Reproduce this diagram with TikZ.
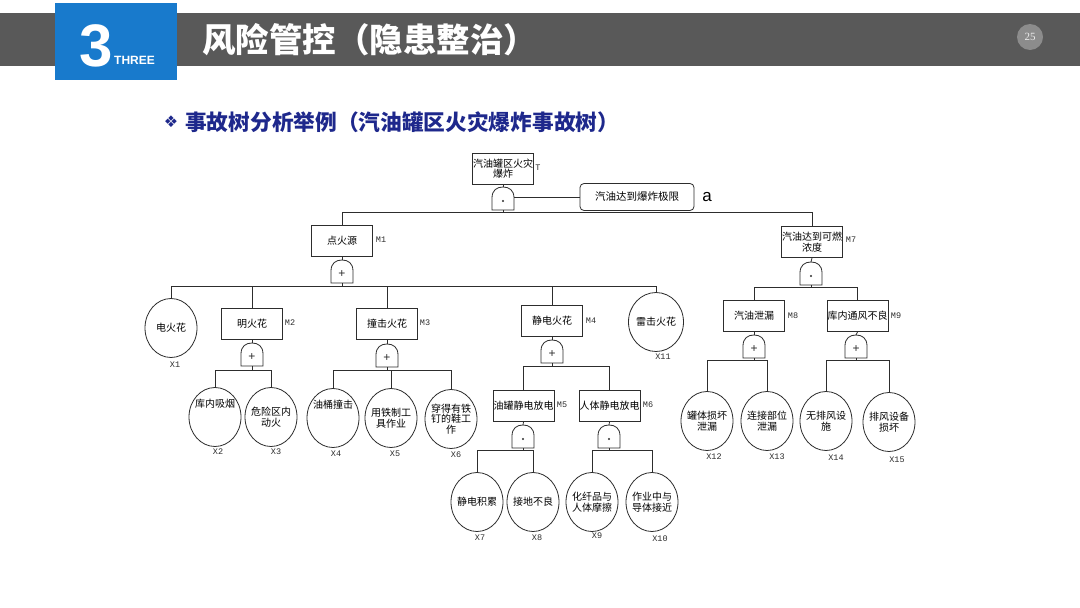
\documentclass[tikz,border=0pt]{standalone}
\usepackage{fontspec}
\usetikzlibrary{shapes.geometric}
\newfontfamily\cjk{Noto Sans CJK SC}
\newfontfamily\lsans{Liberation Sans}
\newfontfamily\lmono{Liberation Mono}
\newfontfamily\lserif{Liberation Serif}
\newfontfamily\djv{DejaVu Sans}
\definecolor{barg}{RGB}{89,89,89}
\definecolor{blu}{RGB}{24,122,204}
\definecolor{navy}{RGB}{30,40,140}
\definecolor{lncol}{RGB}{45,45,45}
\definecolor{pgc}{RGB}{140,140,140}
\tikzset{
  ln/.style={draw=lncol, line width=0.8pt},
  bx/.style={draw=lncol, line width=0.8pt, rectangle, minimum width=61pt, minimum height=31pt, inner sep=0pt, align=center, font=\cjk\fontsize{10}{10.5}\selectfont},
  ev/.style={draw=lncol, line width=0.8pt, ellipse, minimum width=52pt, minimum height=59pt, inner sep=-3pt, align=center, font=\cjk\fontsize{10}{10.5}\selectfont},
  lab/.style={inner sep=0pt, font=\lmono\fontsize{8.5}{8.5}\selectfont, text=lncol},
  gsym/.style={inner sep=0pt, font=\lsans\fontsize{12}{12}\selectfont, text=lncol}
}
\newcommand\gateshape[3]{%
  \draw[ln] (#2-11,#3+23) -- (#2-11,#3+11) .. controls (#2-11,#3+3) and (#2-6,#3) .. (#2,#3) .. controls (#2+6,#3) and (#2+11,#3+3) .. (#2+11,#3+11) -- (#2+11,#3+23) -- cycle;
  \coordinate (#1t) at (#2,#3);
  \coordinate (#1b) at (#2,#3+23);
  \coordinate (#1r) at (#2+11,#3+10);
  \coordinate (#1) at (#2,#3+14);
}
\newcommand\orgate[3]{\gateshape{#1}{#2}{#3}\node[gsym] (#1s) at (#1) {+};}
\newcommand\andgate[3]{\gateshape{#1}{#2}{#3}\fill[lncol] (#1) circle (1.2pt);}
\begin{document}
\begin{tikzpicture}[x=1pt,y=-1pt]
\useasboundingbox (0,0) rectangle (1080,608);
\fill[white] (0,0) rectangle (1080,608);
% header
\fill[barg] (0,13) rectangle (1080,66);
\fill[blu] (55,3) rectangle (177,80);
\node[text=white, font=\lsans\bfseries\fontsize{60}{60}\selectfont, inner sep=0pt, anchor=base] (num) at (96,66) {3};
\node[text=white, font=\lsans\bfseries\fontsize{12}{12}\selectfont, inner sep=0pt, anchor=base west] (three) at (114,64) {THREE};
\node[anchor=west, text=white, font=\cjk\bfseries\fontsize{33.5}{34}\selectfont, inner sep=0pt] (title) at (202,40) {风险管控（隐患整治）};
\node[circle, fill=pgc, minimum size=26pt, inner sep=0pt, text=white!85!gray, font=\lserif\fontsize{11}{11}\selectfont] (pg) at (1030,37) {25};
% subtitle
\node[text=navy, font=\djv\fontsize{16}{16}\selectfont, inner sep=0pt] (bul) at (171,122) {❖};
\node[anchor=west, text=navy, font=\cjk\bfseries\fontsize{21.7}{22}\selectfont, inner sep=0pt] (sub) at (185,122) {事故树分析举例（汽油罐区火灾爆炸事故树）};
% top event
\node[bx] (T) at (503,168.5) {汽油罐区火灾\\爆炸};
\node[lab] (Tl) at (538,168) {T};
\andgate{G0}{503}{187}
\draw[ln] (T.south) -- (G0t);
\node[bx, rounded corners=4pt, minimum width=114pt, minimum height=27pt, font=\cjk\fontsize{10.5}{11}\selectfont] (A) at (637,197) {汽油达到爆炸极限};
\draw[ln] (G0r) -- (A.west);
\node[inner sep=0pt, font=\lsans\fontsize{17}{17}\selectfont] (alab) at (707,197) {a};
% level 1
\node[bx] (M1) at (342,241) {点火源};
\node[lab] (M1l) at (381,240) {M1};
\node[bx] (M7) at (812,242) {汽油达到可燃\\浓度};
\node[lab] (M7l) at (851,240) {M7};
\draw[ln] (G0b) -- ++(0,2) -| (M1.north);
\draw[ln] (G0b) -- ++(0,2) -| (M7.north);
% M1 branch
\orgate{G1}{342}{260}
\draw[ln] (M1.south) -- (G1t);
\node[ev] (X1) at (171,328) {电火花};
\node[lab] (X1l) at (175,365) {X1};
\node[bx] (M2) at (252,324) {明火花};
\node[lab] (M2l) at (290,323) {M2};
\node[bx] (M3) at (387,324) {撞击火花};
\node[lab] (M3l) at (425,323) {M3};
\node[bx] (M4) at (552,321) {静电火花};
\node[lab] (M4l) at (591,321) {M4};
\node[ev, minimum width=55pt] (X11) at (656,322) {雷击火花};
\node[lab] (X11l) at (663,357) {X11};
\foreach \c in {X1,M2,M3,M4,X11} {\draw[ln] (G1b) -- ++(0,3) -| (\c.north);}
% M2
\orgate{G2}{252}{343}
\draw[ln] (M2.south) -- (G2t);
\node[ev] (X2) at (215,417) {\raisebox{10pt}[0pt][0pt]{库内吸烟}};
\node[lab] (X2l) at (218,452) {X2};
\node[ev] (X3) at (271,417) {危险区内\\动火};
\node[lab] (X3l) at (276,452) {X3};
\foreach \c in {X2,X3} {\draw[ln] (G2b) -- ++(0,4) -| (\c.north);}
% M3
\orgate{G3}{387}{344}
\draw[ln] (M3.south) -- (G3t);
\node[ev] (X4) at (333,418) {\raisebox{10pt}[0pt][0pt]{油桶撞击}};
\node[lab] (X4l) at (336,454) {X4};
\node[ev] (X5) at (391,418) {用铁制工\\具作业};
\node[lab] (X5l) at (395,454) {X5};
\node[ev] (X6) at (451,419) {穿得有铁\\钉的鞋工\\作};
\node[lab] (X6l) at (456,455) {X6};
\foreach \c in {X4,X5,X6} {\draw[ln] (G3b) -- ++(0,3) -| (\c.north);}
% M4
\orgate{G4}{552}{340}
\draw[ln] (M4.south) -- (G4t);
\node[bx] (M5) at (523.5,406) {油罐静电放电};
\node[lab] (M5l) at (562,405) {M5};
\node[bx] (M6) at (609.5,406) {人体静电放电};
\node[lab] (M6l) at (648,405) {M6};
\foreach \c in {M5,M6} {\draw[ln] (G4b) -- ++(0,3) -| (\c.north);}
\andgate{G5}{523}{425}
\draw[ln] (M5.south) -- (G5t);
\andgate{G6}{609}{425}
\draw[ln] (M6.south) -- (G6t);
\node[ev] (X7) at (477,502) {静电积累};
\node[lab] (X7l) at (480,538) {X7};
\node[ev] (X8) at (533,502) {接地不良};
\node[lab] (X8l) at (537,538) {X8};
\node[ev] (X9) at (592,502) {化纤品与\\人体摩擦};
\node[lab] (X9l) at (597,536) {X9};
\node[ev] (X10) at (652,502) {作业中与\\导体接近};
\node[lab] (X10l) at (660,539) {X10};
\foreach \c in {X7,X8} {\draw[ln] (G5b) -- ++(0,2) -| (\c.north);}
\foreach \c in {X9,X10} {\draw[ln] (G6b) -- ++(0,2) -| (\c.north);}
% M7 branch
\andgate{G7}{811}{262}
\draw[ln] (M7.south) -- (G7t);
\node[bx] (M8) at (754,316) {汽油泄漏};
\node[lab] (M8l) at (793,316) {M8};
\node[bx] (M9) at (857.5,316) {库内通风不良};
\node[lab] (M9l) at (896,316) {M9};
\foreach \c in {M8,M9} {\draw[ln] (G7b) -- ++(0,2) -| (\c.north);}
\orgate{G8}{754}{335}
\draw[ln] (M8.south) -- (G8t);
\orgate{G9}{856}{335}
\draw[ln] (M9.south) -- (G9t);
\node[ev] (X12) at (707,421) {罐体损坏\\泄漏};
\node[lab] (X12l) at (714,457) {X12};
\node[ev] (X13) at (767,421) {连接部位\\泄漏};
\node[lab] (X13l) at (777,457) {X13};
\node[ev] (X14) at (826,421) {无排风设\\施};
\node[lab] (X14l) at (836,458) {X14};
\node[ev] (X15) at (889,422) {排风设备\\损坏};
\node[lab] (X15l) at (897,460) {X15};
\foreach \c in {X12,X13} {\draw[ln] (G8b) -- ++(0,2) -| (\c.north);}
\foreach \c in {X14,X15} {\draw[ln] (G9b) -- ++(0,2) -| (\c.north);}
\end{tikzpicture}
\end{document}
